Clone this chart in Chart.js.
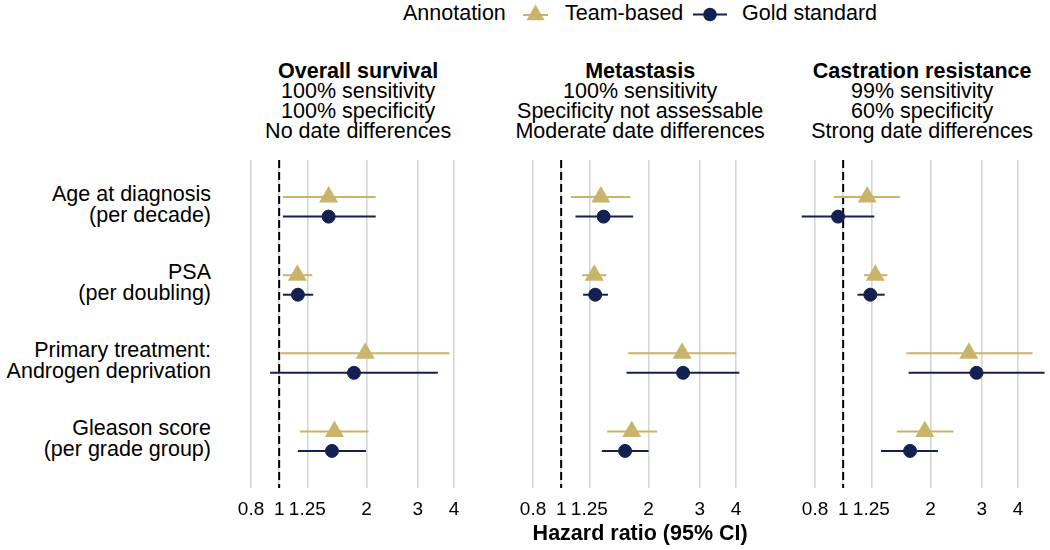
<!DOCTYPE html>
<html>
<head>
<meta charset="utf-8">
<script src="https://cdn.jsdelivr.net/npm/chart.js@4.4.1/dist/chart.umd.min.js"></script>
<style>
  body { margin: 0; background: #fff; font-family: "Liberation Sans", Arial, sans-serif; color: #000; }
  #wrap { position: relative; width: 1050px; height: 550px; overflow: hidden; }
  canvas { position: absolute; top: 0; }
  .txt { position: absolute; font-size: 21.5px; white-space: nowrap; }
  .legend { top: 0; line-height: 26px; }
  .head { top: 61px; width: 300px; text-align: center; line-height: 20px; }
  .head b { font-weight: bold; }
  .ylab { left: 0; width: 211px; text-align: right; line-height: 20.5px; }
</style>
</head>
<body>
<div id="wrap">
  <svg width="1050" height="30" style="position:absolute;left:0;top:0">
    <line x1="523" y1="15" x2="548" y2="15" stroke="#C9B46B" stroke-width="2"/>
    <polygon points="535.5,4.5 544.6,20.25 526.4,20.25" fill="#C9B46B"/>
    <line x1="693" y1="14.5" x2="727" y2="14.5" stroke="#142150" stroke-width="2"/>
    <circle cx="710" cy="14.5" r="6.8" fill="#142150"/>
  </svg>
  <div class="txt legend" style="left:403px">Annotation</div>
  <div class="txt legend" style="left:565px">Team-based</div>
  <div class="txt legend" style="left:742px">Gold standard</div>
</div>
<script>
// rows (top to bottom) and panels
const categories = [
  ["Age at diagnosis", "(per decade)"],
  ["PSA", "(per doubling)"],
  ["Primary treatment:", "Androgen deprivation"],
  ["Gleason score", "(per grade group)"]
];
const panelTitles = ["Overall survival", "Metastasis", "Castration resistance"];
const panelLines = [
  ["100% sensitivity", "100% specificity", "No date differences"],
  ["100% sensitivity", "Specificity not assessable", "Moderate date differences"],
  ["99% sensitivity", "60% specificity", "Strong date differences"]
];

// hazard ratios per panel (OS, metastasis, castration resistance), one value per row
const teamHR = [[1.48, 1.155, 1.98, 1.55], [1.37, 1.30, 2.61, 1.75], [1.21, 1.29, 2.71, 1.91]];
const teamLo = [[1.03, 1.03, 1.01, 1.18], [1.08, 1.18, 1.70, 1.44], [0.93, 1.18, 1.65, 1.53]];
const teamHi = [[2.15, 1.30, 3.86, 2.03], [1.73, 1.43, 4.01, 2.14], [1.57, 1.42, 4.49, 2.40]];
const goldHR = [[1.48, 1.16, 1.81, 1.52], [1.40, 1.31, 2.63, 1.66], [0.96, 1.24, 2.88, 1.70]];
const goldLo = [[1.03, 1.03, 0.93, 1.16], [1.12, 1.19, 1.68, 1.38], [0.72, 1.12, 1.68, 1.35]];
const goldHi = [[2.15, 1.31, 3.52, 1.99], [1.77, 1.45, 4.11, 2.00], [1.28, 1.39, 4.94, 2.12]];

const tickVals = [0.8, 1, 1.25, 2, 3, 4];
const tickLabels = ["0.8", "1", "1.25", "2", "3", "4"];

const GOLD = "#C9B46B";
const NAVY = "#142150";
const FONT = "'Liberation Sans', Arial, sans-serif";

// layout of the three panels
const panelLeft = [234.2, 516.2, 798.2];
const panelWidth = 247.9;
const plotTop = 160;
const axisHeight = 62;
const rowOffset = 0.125;
const side = 40; // spare room each side of a panel canvas

const wrap = document.getElementById("wrap");

// row labels
categories.forEach((lines, i) => {
  const d = document.createElement("div");
  d.className = "txt ylab";
  const center = 206.3 + i * 78;
  d.style.top = (center - 22) + "px";
  d.innerHTML = lines.join("<br>");
  wrap.appendChild(d);
});

// panel headers
panelTitles.forEach((t, k) => {
  const d = document.createElement("div");
  d.className = "txt head";
  d.style.left = (panelLeft[k] + panelWidth / 2 - 150) + "px";
  d.innerHTML = "<b>" + t + "</b><br>" + panelLines[k].join("<br>");
  wrap.appendChild(d);
});

function ciDatasets(lo, hi, color, offset) {
  return lo.map((l, i) => ({
    type: "line",
    data: [{ x: l, y: i + 1 + offset }, { x: hi[i], y: i + 1 + offset }],
    borderColor: color,
    borderWidth: 2,
    pointRadius: 0,
    fill: false,
    clip: false,
    order: 2
  }));
}

function renderPanel(k) {
  const canvasLeft = Math.floor(panelLeft[k]) - side;
  const padLeft = panelLeft[k] - canvasLeft;
  const canvasWidth = Math.ceil(padLeft + panelWidth + side);
  const ctx = document.createElement("canvas");
  ctx.width = canvasWidth;
  ctx.height = 550;
  ctx.style.left = canvasLeft + "px";
  wrap.appendChild(ctx);

  const datasets = [
    // reference line at HR = 1
    {
      type: "line",
      data: [{ x: 1, y: 0.4 }, { x: 1, y: 4.6 }],
      borderColor: "#000",
      borderWidth: 2,
      borderDash: [8, 4],
      pointRadius: 0,
      fill: false,
      order: 3
    },
    ...ciDatasets(teamLo[k], teamHi[k], GOLD, -rowOffset),
    ...ciDatasets(goldLo[k], goldHi[k], NAVY, rowOffset),
    {
      label: "Team-based",
      data: teamHR[k].map((v, i) => ({ x: v, y: i + 1 - rowOffset })),
      pointStyle: "triangle",
      pointRadius: 11,
      backgroundColor: GOLD,
      borderColor: GOLD,
      borderWidth: 0,
      clip: false,
      order: 1
    },
    {
      label: "Gold standard",
      data: goldHR[k].map((v, i) => ({ x: v, y: i + 1 + rowOffset })),
      pointStyle: "circle",
      pointRadius: 6.5,
      backgroundColor: NAVY,
      borderColor: NAVY,
      borderWidth: 1,
      clip: false,
      order: 0
    }
  ];

  new Chart(ctx, {
    type: "scatter",
    data: { datasets: datasets },
    options: {
      responsive: false,
      animation: false,
      events: [],
      layout: {
        padding: { left: padLeft, right: canvasWidth - padLeft - panelWidth, top: plotTop, bottom: 0 }
      },
      plugins: {
        legend: { display: false },
        tooltip: { enabled: false }
      },
      scales: {
        x: {
          type: "logarithmic",
          min: 0.7,
          max: 5,
          bounds: "data",
          afterBuildTicks: s => { s.ticks = tickVals.map(v => ({ value: v })); },
          afterFit: s => { s.height = axisHeight; },
          grid: { color: "#d6d6d6", lineWidth: 1.6, drawTicks: false },
          border: { display: false },
          ticks: {
            autoSkip: false,
            maxRotation: 0,
            padding: 10,
            color: "#000",
            font: { family: FONT, size: 19 },
            callback: (v, i) => tickLabels[i]
          },
          title: {
            display: k === 1,
            text: "Hazard ratio (95% CI)",
            color: "#000",
            font: { family: FONT, size: 21.5, weight: "bold" },
            padding: { top: 0, bottom: 3 }
          }
        },
        y: {
          type: "linear",
          reverse: true,
          min: 0.4,
          max: 4.6,
          display: false
        }
      }
    }
  });
}

renderPanel(0);
renderPanel(1);
renderPanel(2);
</script>
</body>
</html>
